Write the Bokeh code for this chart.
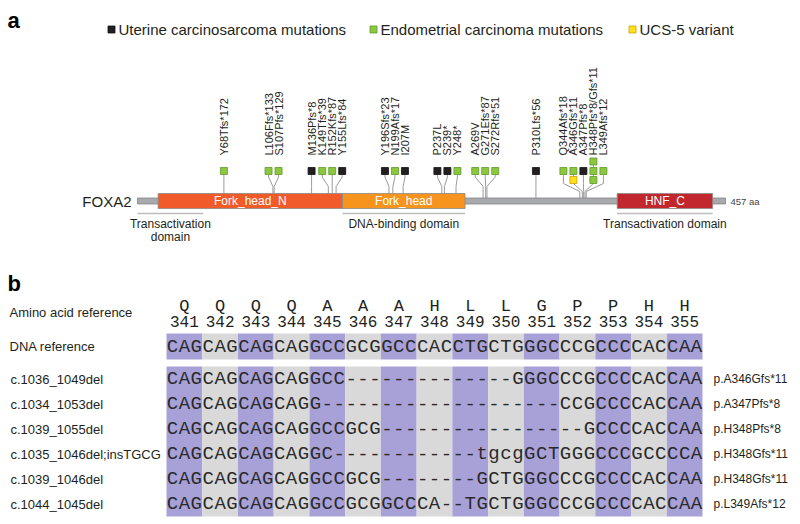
import math
from bokeh.plotting import figure
from bokeh.models import Range1d
from bokeh.core.properties import value
from bokeh.embed import file_html
from bokeh.resources import INLINE

# ---------------- data: panel a ----------------
protein_name = "FOXA2"
protein_length = 457
domain_names = ["Fork_head_N", "Fork_head", "HNF_C"]
domain_start = [17, 160, 373]
domain_end = [160, 255, 447]
region_names = ["Transactivation\ndomain", "DNA-binding domain", "Transactivation domain"]
region_start = [1, 160, 373]
region_end = [52, 255, 447]

mut_pos = [68, 106, 107, 136, 149, 152, 155, 196, 199, 207, 237, 239, 248,
           269, 271, 272, 310, 344, 346, 347, 348, 349]
mut_label = ["Y68Tfs*172", "L106Ffs*133", "S107Pfs*129", "M136Pfs*8", "K149Tfs*39",
             "R152Kfs*87", "Y155Lfs*84", "Y196Sfs*23", "N199Afs*17", "I207M",
             "P237L", "S239*", "Y248*", "A269V", "G271Efs*87", "S272Rfs*51",
             "P310Lfs*56", "Q344Afs*18", "A346Gfs*11", "A347Pfs*8",
             "H348Pfs*8/Gfs*11", "L349Afs*12"]
mut_types = [["EC"], ["EC"], ["EC"], ["UCS"], ["EC"], ["EC"], ["UCS"], ["UCS"],
             ["EC"], ["UCS"], ["UCS"], ["UCS"], ["EC"], ["EC"], ["EC"], ["EC"],
             ["UCS"], ["EC"], ["EC", "UCS5"], ["UCS"], ["EC", "EC", "EC"], ["EC"]]
legend_keys = ["UCS", "EC", "UCS5"]
legend_names = ["Uterine carcinosarcoma mutations", "Endometrial carcinoma mutations", "UCS-5 variant"]

# ---------------- data: panel b ----------------
aa_ref = ["Q", "Q", "Q", "Q", "A", "A", "A", "H", "L", "L", "G", "P", "P", "H", "H"]
aa_num = ["341", "342", "343", "344", "345", "346", "347", "348", "349", "350",
          "351", "352", "353", "354", "355"]
dna_ref = "CAGCAGCAGCAGGCCGCGGCCCACCTGCTGGGCCCGCCCCACCAA"
mut_cdna = ["c.1036_1049del", "c.1034_1053del", "c.1039_1055del",
            "c.1035_1046del;insTGCG", "c.1039_1046del", "c.1044_1045del"]
mut_seq = [
    "CAGCAGCAGCAGGCC" + "-" * 14 + "GGGCCCGCCCCACCAA",
    "CAGCAGCAGCAGG" + "-" * 20 + "CCGCCCCACCAA",
    "CAGCAGCAGCAGGCCGCG" + "-" * 17 + "GCCCCACCAA",
    "CAGCAGCAGCAGGC" + "-" * 12 + "tgcg" + "GCTGGGCCCGCCCCA",
    "CAGCAGCAGCAGGCCGCG" + "-" * 8 + "GCTGGGCCCGCCCCACCAA",
    "CAGCAGCAGCAGGCCGCGGCCCA" + "--" + "TGCTGGGCCCGCCCCACCAA",
]
mut_protein = ["p.A346Gfs*11", "p.A347Pfs*8", "p.H348Pfs*8", "p.H348Gfs*11",
               "p.H348Gfs*11", "p.L349Afs*12"]

# ---------------- styles / layout ----------------
W, H = 800, 524
SANS = value("Liberation Sans")
MONO = value("Liberation Mono")
DARK = "#231F20"
type_fill = {"UCS": "#231F20", "EC": "#8DC63F", "UCS5": "#FFE01A"}
type_line = {"UCS": "#111111", "EC": "#5E9A2C", "UCS5": "#C8A400"}
domain_colors = ["#F15A29", "#F7941D", "#C1272D"]
PURPLE, GREY = "#A8A1D8", "#D9D9D9"

ppa = 588 / 456.0        # screen px per amino acid
track_x0 = 137           # screen px of residue 1
def aa_at(px):
    return 1 + (px - track_x0) / ppa

ppn = 536 / 45.0         # screen px per nucleotide
nt_x0 = 166

p = figure(width=W, height=H, x_range=Range1d(aa_at(0), aa_at(W)),
           y_range=Range1d(H, 0), output_backend="svg", toolbar_location=None,
           x_axis_location=None, y_axis_location=None, min_border=0,
           outline_line_color=None)
p.extra_x_ranges = {"nt": Range1d(-nt_x0 / ppn, (W - nt_x0) / ppn)}
p.xgrid.visible = False
p.ygrid.visible = False

# panel letters
p.text(x=[aa_at(7)], y=[20], text=["a"], text_font=SANS, text_font_style="bold",
       text_font_size="22px", text_color="black", text_baseline="alphabetic")
p.text(x=[aa_at(7)], y=[283], text=["b"], text_font=SANS, text_font_style="bold",
       text_font_size="22px", text_color="black", text_baseline="alphabetic")

# legend
leg_sq_px = [111, 373, 632]
leg_y = 29
p.scatter(x=[aa_at(v) for v in leg_sq_px], y=[leg_y] * 3, marker="square", size=7,
          fill_color=[type_fill[k] for k in legend_keys],
          line_color=[type_line[k] for k in legend_keys], line_width=0.8)
p.text(x=[aa_at(v + 7) for v in leg_sq_px], y=[leg_y] * 3, text=legend_names,
       text_font=SANS, text_font_size="15px", text_color=DARK,
       text_baseline="middle", text_align="left")

# ---- lollipop layout: spread crowded positions apart ----
gap = 10.0 / ppa
order = sorted(range(len(mut_pos)), key=lambda i: mut_pos[i])
groups = [[i] for i in order]
def gcenter(g):
    return sum(mut_pos[i] for i in g) / len(g)
changed = True
while changed:
    changed = False
    res = []
    for g in groups:
        if res:
            prev = res[-1]
            pr = gcenter(prev) + (len(prev) - 1) * gap / 2
            gl = gcenter(g) - (len(g) - 1) * gap / 2
            if gl - pr < gap:
                res[-1] = prev + g
                changed = True
                continue
        res.append(g)
    groups = res
disp = [0.0] * len(mut_pos)
for g in groups:
    c = gcenter(g)
    for k, i in enumerate(g):
        disp[i] = c + (k - (len(g) - 1) / 2) * gap

sq_rows = [170.5, 179.5, 161.0]   # main, below, above
track_y = 200.5
stem_xs, stem_ys = [], []
for g in groups:
    low = any(len(mut_types[i]) > 1 for i in g)
    b1, b2 = (183.0, 191.0) if low else (176.5, 186.0)
    for i in g:
        top = sq_rows[2] if len(mut_types[i]) > 2 else sq_rows[0]
        stem_xs.append([disp[i], disp[i], mut_pos[i], mut_pos[i]])
        stem_ys.append([top, b1, b2, track_y])
p.multi_line(xs=stem_xs, ys=stem_ys, line_color="#9B9B9B", line_width=1)

# backbone and domains
p.quad(left=[1], right=[protein_length], top=[197.5], bottom=[203.5],
       fill_color="#A7A9AC", line_color="#858585", line_width=0.8)
p.quad(left=domain_start, right=domain_end, top=[193] * 3, bottom=[208] * 3,
       fill_color=domain_colors, line_color="#8C8C8C", line_width=0.8)
p.text(x=[(a + b) / 2 for a, b in zip(domain_start, domain_end)], y=[track_y] * 3,
       text=domain_names, text_font=SANS, text_font_size="12px", text_color="white",
       text_align="center", text_baseline="middle")
p.text(x=[1], y=[track_y], x_offset=-6, text=[protein_name], text_font=SANS,
       text_font_size="15px", text_color=DARK, text_align="right", text_baseline="middle")
p.text(x=[protein_length], y=[track_y], x_offset=5, text=[f"{protein_length} aa"],
       text_font=SANS, text_font_size="9.5px", text_color="#444444",
       text_align="left", text_baseline="middle")

# squares
sx, sy, sf, sl = [], [], [], []
for i, types in enumerate(mut_types):
    for k, t in enumerate(types):
        sx.append(disp[i]); sy.append(sq_rows[k])
        sf.append(type_fill[t]); sl.append(type_line[t])
p.scatter(x=sx, y=sy, marker="square", size=7, fill_color=sf, line_color=sl, line_width=0.8)

# mutation labels
p.text(x=disp, y=[155] * len(disp), text=mut_label, angle=math.pi / 2,
       text_font=SANS, text_font_size="11px", text_color=DARK,
       text_align="left", text_baseline="middle")

# functional regions below the track
p.segment(x0=region_start, x1=region_end, y0=[213] * 3, y1=[213] * 3,
          line_color="#BDBDBD", line_width=1.5)
rx, ry, rt = [], [], []
for a, b, name in zip(region_start, region_end, region_names):
    for k, line in enumerate(name.split("\n")):
        rx.append((a + b) / 2); ry.append(223 + 13 * k); rt.append(line)
p.text(x=rx, y=ry, text=rt, text_font=SANS, text_font_size="12px", text_color=DARK,
       text_align="center", text_baseline="middle")

# ---------------- panel b ----------------
n_codon = len(aa_ref)
ref_band = (333, 359)
mut_top, row_h = 366, 25
mut_band = (mut_top, mut_top + row_h * len(mut_seq))
for top, bot in [ref_band, mut_band]:
    p.quad(left=[3 * c for c in range(n_codon)], right=[3 * c + 3 for c in range(n_codon)],
           top=[top] * n_codon, bottom=[bot] * n_codon,
           fill_color=[PURPLE if c % 2 == 0 else GREY for c in range(n_codon)],
           line_color=None, x_range_name="nt")

cx = [3 * c + 1.5 for c in range(n_codon)]
p.text(x=cx, y=[306] * n_codon, text=aa_ref, text_font=MONO, text_font_size="17px",
       text_color=DARK, text_align="center", text_baseline="middle", x_range_name="nt")
p.text(x=cx, y=[321] * n_codon, text=aa_num, text_font=MONO, text_font_size="16px",
       text_color=DARK, text_align="center", text_baseline="middle", x_range_name="nt")

row_y = [(ref_band[0] + ref_band[1]) / 2] + [mut_top + row_h * (r + 0.5) for r in range(len(mut_seq))]
seqs = [dna_ref] + mut_seq
nx, ny, nt = [], [], []
for yy, s in zip(row_y, seqs):
    for j, ch in enumerate(s):
        nx.append(j + 0.5); ny.append(yy); nt.append(ch)
p.text(x=nx, y=ny, text=nt, text_font=MONO, text_font_size="19px", text_color="#2A2A2A",
       text_align="center", text_baseline="middle", x_range_name="nt")

left_x = -nt_x0 / ppn
p.text(x=[left_x] * 2, y=[312, row_y[0]], x_offset=9,
       text=["Amino acid reference", "DNA reference"], text_font=SANS,
       text_font_size="13px", text_color=DARK, text_baseline="middle", x_range_name="nt")
p.text(x=[left_x] * len(mut_cdna), y=row_y[1:], x_offset=10, text=mut_cdna, text_font=SANS,
       text_font_size="13px", text_color=DARK, text_baseline="middle", x_range_name="nt")
p.text(x=[len(dna_ref)] * len(mut_protein), y=row_y[1:], x_offset=11, text=mut_protein,
       text_font=SANS, text_font_size="12px", text_color=DARK, text_baseline="middle",
       x_range_name="nt")

open("out.html", "w").write(file_html(p, INLINE))
